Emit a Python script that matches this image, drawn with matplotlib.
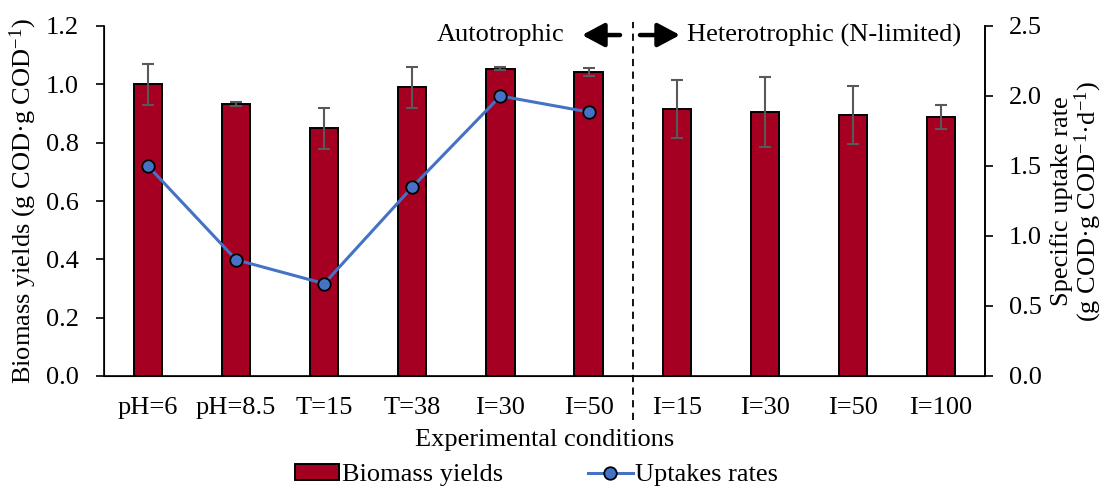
import matplotlib
matplotlib.use("Agg")
import matplotlib.pyplot as plt
import numpy as np

categories = ["pH=6", "pH=8.5", "T=15", "T=38", "I=30", "I=50", "I=15", "I=30", "I=50", "I=100"]
biomass_yields = [1.00, 0.932, 0.85, 0.99, 1.053, 1.042, 0.915, 0.905, 0.895, 0.888]
biomass_err = [0.07, 0.007, 0.07, 0.07, 0.005, 0.015, 0.10, 0.12, 0.10, 0.04]
uptake_rates = [1.50, 0.83, 0.66, 1.35, 2.00, 1.886]

plt.rcParams['font.family'] = ['Liberation Serif', 'DejaVu Serif']
plt.rcParams['mathtext.fontset'] = 'custom'
plt.rcParams['mathtext.rm'] = 'Liberation Serif'
plt.rcParams['mathtext.it'] = 'Liberation Serif:italic'

fs = 19
fig = plt.figure(figsize=(11.06, 4.88), dpi=100)
ax = fig.add_axes([104/1106, 1-376/488, (985-104)/1106, 350/488])
x = np.arange(len(categories))
ax.bar(x, biomass_yields, width=0.32, color='#A50021', edgecolor='black', linewidth=1.4,
       yerr=biomass_err, error_kw=dict(ecolor='#595959', elinewidth=1.5, capsize=4, capthick=1.5),
       label='Biomass yields', zorder=2)
ax.set_xlim(-0.5, len(categories) - 0.5)
ax.set_ylim(0, 1.2)
ax.set_yticks(np.arange(0, 1.21, 0.2))
ax.set_yticklabels([f"{v:.1f}" for v in np.arange(0, 1.21, 0.2)], fontsize=fs)
ax.set_xticks(x)
ax.set_xticklabels(categories, fontsize=fs)
ax.tick_params(axis='x', length=0, pad=15)
ax.tick_params(axis='y', length=6, width=1.2, direction='out', pad=12)
ax.spines['top'].set_visible(False)
for s in ['left', 'bottom', 'right']:
    ax.spines[s].set_linewidth(1.2)
ax.set_ylabel("Biomass yields (g COD·g COD$^{-1}$)", fontsize=fs, labelpad=5)
ax.set_xlabel("Experimental conditions", fontsize=fs, labelpad=7)

ax2 = ax.twinx()
ax2.plot(x[:len(uptake_rates)], uptake_rates, color='#4472C4', linewidth=2.2, marker='o',
         markersize=9, markerfacecolor='#4472C4', markeredgecolor='black', markeredgewidth=1.3,
         label='Uptakes rates', zorder=3)
ax2.set_ylim(0, 2.5)
ax2.set_yticks(np.arange(0, 2.51, 0.5))
ax2.set_yticklabels([f"{v:.1f}" for v in np.arange(0, 2.51, 0.5)], fontsize=fs)
ax2.tick_params(axis='y', length=6, width=1.2, direction='out', pad=11)
ax2.spines['top'].set_visible(False)
ax2.spines['right'].set_linewidth(1.2)
ax2.set_ylabel("Specific uptake rate\n(g COD·g COD$^{-1}$·d$^{-1}$)", fontsize=fs, labelpad=6,
               linespacing=1.0)

# divider and annotations
ax.plot([5.5, 5.5], [-0.151, 1.214], color='black', linestyle=(0, (4, 3)), linewidth=1.3,
        clip_on=False, zorder=1)
astyle = '-|>,head_length=0.75,head_width=0.4'
ax.annotate("", xy=(4.926, 1.169), xytext=(5.357, 1.169),
            arrowprops=dict(arrowstyle=astyle, color='black', lw=3.2, mutation_scale=18,
                            shrinkA=0, shrinkB=0))
ax.annotate("", xy=(6.038, 1.169), xytext=(5.584, 1.169),
            arrowprops=dict(arrowstyle=astyle, color='black', lw=3.2, mutation_scale=18,
                            shrinkA=0, shrinkB=0))
ax.text(4.73, 1.169, "Autotrophic", ha='right', va='center', fontsize=fs)
ax.text(6.117, 1.169, "Heterotrophic (N-limited)", ha='left', va='center', fontsize=fs)

h1, l1 = ax.get_legend_handles_labels()
h2, l2 = ax2.get_legend_handles_labels()
fig.legend(h1 + h2, l1 + l2, loc='center', bbox_to_anchor=(0.485, 1-475/488), ncol=2,
           frameon=False, fontsize=fs, columnspacing=3.2, handlelength=1.7, handletextpad=0.1,
           borderpad=0, borderaxespad=0, handleheight=0.6)

fig.savefig("out.png", dpi=100)
